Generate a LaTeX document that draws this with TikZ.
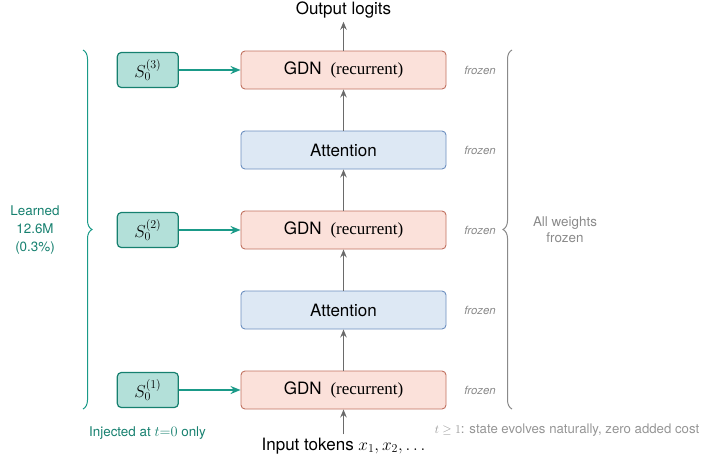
\documentclass[tikz,border=0pt]{standalone}
\usepackage[no-math]{fontspec}
\setsansfont{TeX Gyre Heros}
\renewcommand\familydefault{\sfdefault}
\newfontfamily\timesfam{Liberation Serif}
\usetikzlibrary{arrows.meta,decorations.pathreplacing}
\definecolor{gdnfill}{HTML}{FBE1DA}
\definecolor{gdnline}{HTML}{C0705F}
\definecolor{attfill}{HTML}{DDE8F4}
\definecolor{attline}{HTML}{6C8EBF}
\definecolor{tealfill}{HTML}{B3E0D9}
\definecolor{tealdark}{HTML}{16806F}
\definecolor{tealline}{HTML}{1A9A88}
\definecolor{arrowgray}{HTML}{6A6A6A}
\definecolor{frzgray}{HTML}{8A8A8A}
\definecolor{notegray}{HTML}{959595}
\definecolor{bracegray}{HTML}{8A8A8A}
\begin{document}
\begin{tikzpicture}[x=1pt,y=1pt,
  font=\fontsize{17}{20}\selectfont,
  block/.style={draw, rounded corners=4pt, minimum width=205pt, minimum height=38pt, line width=0.9pt, inner sep=0pt},
  gdn/.style={block, fill=gdnfill, draw=gdnline},
  attn/.style={block, fill=attfill, draw=attline},
  sbox/.style={draw=tealdark, fill=tealfill, rounded corners=4pt, minimum width=61pt, minimum height=35pt, line width=1.2pt, inner sep=0pt},
  flow/.style={draw=arrowgray, line width=1.1pt, -{Stealth[length=8pt,width=6.5pt]}},
  inj/.style={draw=tealline, line width=1.6pt, -{Stealth[length=10pt,width=8pt]}},
  frz/.style={font=\fontsize{11.4}{13}\selectfont\itshape, text=frzgray},
]
\useasboundingbox (0,0) rectangle (703,-459);
\newcommand\recur{{\timesfam\fontsize{17}{20}\selectfont(recurrent)}}
% main column
\node[gdn]  (g3) at (343.5,-70)  {GDN\hspace{9pt}\recur};
\node[attn] (a2) at (343.5,-150) {Attention};
\node[gdn]  (g2) at (343.5,-230) {GDN\hspace{9pt}\recur};
\node[attn] (a1) at (343.5,-310) {Attention};
\node[gdn]  (g1) at (343.5,-390) {GDN\hspace{9pt}\recur};
\node (out) at (343.5,-10) {Output logits};
\node (in) at (343.5,-446) {Input tokens $x_1, x_2, \dots$};
\draw[flow] (in) -- (g1);
\draw[flow] (g1) -- (a1);
\draw[flow] (a1) -- (g2);
\draw[flow] (g2) -- (a2);
\draw[flow] (a2) -- (g3);
\draw[flow] (g3) -- (out);
% initial states
\node[sbox] (s3) at (147.8,-70)  {$S_0^{(3)}$};
\node[sbox] (s2) at (147.8,-230) {$S_0^{(2)}$};
\node[sbox] (s1) at (147.8,-390) {$S_0^{(1)}$};
\draw[inj] (s3) -- (g3);
\draw[inj] (s2) -- (g2);
\draw[inj] (s1) -- (g1);
% frozen labels
\node[frz] (f3) at (480,-70)  {frozen};
\node[frz] (f2) at (480,-150) {frozen};
\node[frz] (f1) at (480,-230) {frozen};
\node[frz] (f0) at (480,-310) {frozen};
\node[frz] (fb) at (480,-390) {frozen};
% braces
\coordinate (lbt) at (83,-50);
\coordinate (lbb) at (83,-409);
\draw[decorate, decoration={brace, amplitude=9pt}, draw=tealline, line width=1pt] (lbt) -- (lbb);
\coordinate (rbt) at (512,-50);
\coordinate (rbb) at (512,-409);
\draw[decorate, decoration={brace, amplitude=9pt}, draw=bracegray, line width=1pt] (rbb) -- (rbt);
\node[align=center, text=tealdark, font=\fontsize{13.4}{18}\selectfont] (learn) at (35,-230) {Learned\\12.6M\\(0.3\%)};
\node[align=center, text=frzgray, font=\fontsize{13.4}{16}\selectfont] (allw) at (565,-230) {All weights\\frozen};
\node[text=tealdark, font=\fontsize{13.4}{16}\selectfont] (injnote) at (147.5,-433) {Injected at $t{=}0$ only};
\node[text=notegray, font=\fontsize{13.2}{16}\selectfont] (tnote) at (567,-430) {$t\geq1$: state evolves naturally, zero added cost};
\end{tikzpicture}
\end{document}
